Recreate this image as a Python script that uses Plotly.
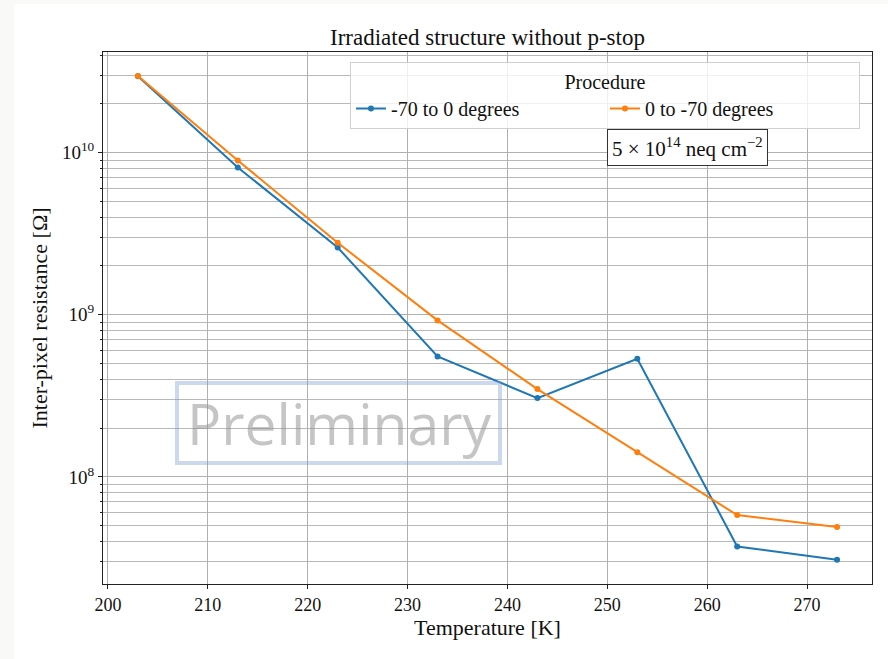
import plotly.graph_objects as go

temperature = [203, 213, 223, 233, 243, 253, 263, 273]
res_up = [2.96e10, 8.11e9, 2.60e9, 5.53e8, 3.06e8, 5.35e8, 3.72e7, 3.08e7]      # -70 to 0 degrees
res_down = [2.97e10, 8.96e9, 2.78e9, 9.23e8, 3.48e8, 1.42e8, 5.81e7, 4.90e7]   # 0 to -70 degrees
series_names = ["-70 to 0 degrees", "0 to -70 degrees"]
colors = ["#1f77b4", "#ff7f0e"]
x_ticks = [200, 210, 220, 230, 240, 250, 260, 270]
y_major = [1e8, 1e9, 1e10]
y_major_text = ["10<sup>8</sup>", "10<sup>9</sup>", "10<sup>10</sup>"]
y_minor = [m * 10**e for e in range(7, 11) for m in range(2, 10)]

SERIF = "Liberation Serif, Times New Roman, serif"

fig = go.Figure()
for name, vals, c in zip(series_names, [res_up, res_down], colors):
    fig.add_trace(go.Scatter(
        x=temperature, y=vals, name=name, mode="lines+markers",
        line=dict(color=c, width=2), marker=dict(color=c, size=6),
    ))

L, R, T, B = 103, 16, 52, 75
W, H = 888, 659
pw, ph = W - L - R, H - T - B

def px_x(p):
    return (p - L) / pw

def px_y(p):
    return (H - B - p) / ph

# outer page background strip (white card)
fig.add_shape(type="rect", xref="paper", yref="paper",
              x0=px_x(14), x1=px_x(W + 2), y0=px_y(H + 2), y1=px_y(4),
              fillcolor="white", line=dict(width=0), layer="below")

# Preliminary watermark
fig.add_shape(type="rect", xref="paper", yref="paper",
              x0=px_x(177), x1=px_x(500), y0=px_y(463), y1=px_y(383),
              line=dict(color="rgba(120,155,205,0.38)", width=4), layer="above")
fig.add_annotation(xref="paper", yref="paper", x=px_x(338.5), y=px_y(423),
                   xanchor="center", yanchor="middle",
                   text="Preliminary", showarrow=False,
                   font=dict(family="Open Sans, Noto Sans, sans-serif", size=57,
                             color="rgba(140,140,140,0.5)"))

# fluence annotation
fig.add_annotation(xref="paper", yref="paper", x=px_x(687), y=px_y(147),
                   xanchor="center", yanchor="middle",
                   text="5 × 10<sup>14</sup> neq cm<sup>−2</sup>", showarrow=False,
                   font=dict(family=SERIF, size=21, color="#111"),
                   bgcolor="white", bordercolor="#333", borderwidth=1, borderpad=4)

fig.update_layout(
    width=W, height=H,
    margin=dict(l=L, r=R, t=T, b=B),
    paper_bgcolor="#f9f9f7", plot_bgcolor="white",
    title=dict(text="Irradiated structure without p-stop", xref="paper", x=px_x(487.5),
               xanchor="center", y=1 - 37 / H, yanchor="middle",
               font=dict(family=SERIF, size=23, color="#111")),
    font=dict(family=SERIF, size=18, color="#111"),
    legend=dict(
        title=dict(text="Procedure", side="top center", font=dict(family=SERIF, size=20)),
        orientation="h", x=px_x(860), xanchor="right", y=px_y(62), yanchor="top",
        bgcolor="rgba(255,255,255,0.8)", bordercolor="#d0d0d0", borderwidth=1,
        font=dict(family=SERIF, size=20, color="#111"), entrywidth=209,
    ),
    xaxis=dict(
        range=[199.5, 276.5], tickvals=x_ticks, ticks="outside", ticklen=4,
        tickcolor="#222", showgrid=True, gridcolor="#b0b0b0", gridwidth=1,
        showline=True, linecolor="#222", linewidth=1, mirror=True, zeroline=False,
        title=dict(text="Temperature [K]", font=dict(family=SERIF, size=22), standoff=6),
        tickfont=dict(family=SERIF, size=18),
    ),
    yaxis=dict(
        type="log", range=[7.339, 10.621], tickvals=y_major, ticktext=y_major_text,
        ticks="outside", ticklen=4, tickcolor="#222",
        showgrid=True, gridcolor="#b0b0b0", gridwidth=1,
        minor=dict(tickvals=y_minor, ticks="outside", ticklen=2, tickcolor="#222",
                   showgrid=True, gridcolor="#b8b8b8", gridwidth=1),
        showline=True, linecolor="#222", linewidth=1, mirror=True, zeroline=False,
        title=dict(text="Inter-pixel resistance [Ω]", font=dict(family=SERIF, size=22), standoff=8),
        tickfont=dict(family=SERIF, size=19),
    ),
)

fig.write_html("out.html")
